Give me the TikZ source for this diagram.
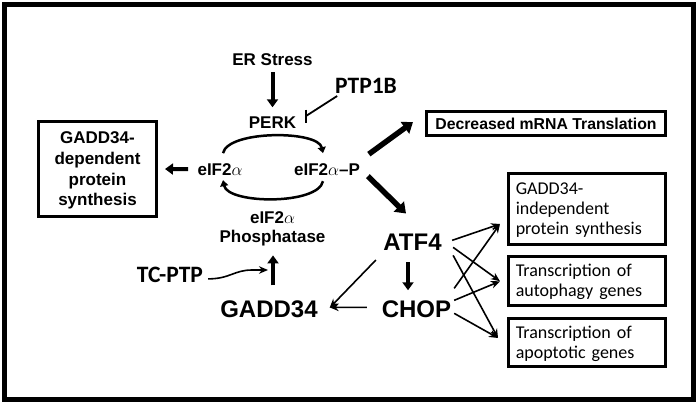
\documentclass[tikz,border=0pt]{standalone}
\usepackage{fontspec}
\setmainfont{Liberation Sans}
\newfontfamily\calfont{Carlito}
\usetikzlibrary{arrows.meta}
\begin{document}
\begin{tikzpicture}[x=1pt,y=-1pt,
  txt/.style={inner sep=0pt, outer sep=0pt, anchor=base, font=\bfseries\fontsize{17}{19}\selectfont},
  bigtxt/.style={txt, font=\bfseries\fontsize{24}{28}\selectfont},
  caltxt/.style={txt, font=\calfont\bfseries\fontsize{23.5}{26}\selectfont},
  framebox/.style={draw, line width=3pt, inner sep=0pt, outer sep=0pt},
  rbox/.style={framebox, text width=142pt, align=left, inner xsep=7.75pt, font=\calfont\fontsize{18}{20}\selectfont},
  thickarr/.style={line width=4pt, -{Triangle[length=8pt,width=11pt]}},
  heavyarr/.style={line width=5.5pt, -{Triangle[length=10pt,width=14pt]}},
  cyclearr/.style={line width=2.5pt, -{Triangle[length=6pt,width=8pt]}},
  thinarr/.style={line width=1.6pt, -{Stealth[length=9pt,width=7.5pt]}},
]
\fill[white] (0,0) rectangle (700,405);
\useasboundingbox (0,0) rectangle (700,405);
\draw[line width=5pt] (4.5,4.5) rectangle (693.5,399.5);

% text nodes
\node[txt] (er) at (272.5,65) {ER Stress};
\node[txt] (perk) at (272.5,128) {PERK};
\node[caltxt] (ptp) at (366,93) {PTP1B};
\node[txt] (eif) at (220,175) {eIF2$\alpha$};
\node[txt] (eifp) at (327,175) {eIF2$\alpha$--P};
\node[txt, anchor=north, align=center] (phos) at (272.5,211.5) {eIF2$\alpha$\\Phosphatase};
\node[caltxt] (tcptp) at (170,282) {TC-PTP};
\node[bigtxt] (gadd) at (269,317) {GADD34};
\node[bigtxt] (atf4) at (412.5,250) {ATF4};
\node[bigtxt] (chop) at (416.5,317) {CHOP};

% boxes
\node[framebox, minimum width=118pt, minimum height=95pt, align=center, text depth=0pt,
      font=\bfseries\fontsize{17}{20.7}\selectfont] (gdep) at (97.5,169) {GADD34-\\dependent\\protein\\synthesis};
\node[framebox, minimum width=239pt, minimum height=24pt,
      font=\bfseries\fontsize{15.8}{18}\selectfont] (dec) at (546,123.5) {Decreased mRNA Translation};
\node[rbox, minimum height=71.5pt, text depth=40pt] (b1) at (586.75,208.75) {GADD34-\\independent\\protein synthesis};
\node[rbox, minimum height=48.5pt, text depth=20pt] (b2) at (586.75,280.75) {Transcription of\\autophagy genes};
\node[rbox, minimum height=48.2pt, text depth=20pt] (b3) at (586.75,342.4) {Transcription of\\apoptotic genes};

% ER stress -> PERK
\draw[thickarr] ([yshift=-7pt]er.south) -- ([yshift=9pt]perk.north);
% PTP1B inhibits PERK
\coordinate (pend) at (306,116);
\draw[line width=1.8pt] ([shift={(2pt,-3pt)}]ptp.south west) -- (pend);
\draw[line width=2.5pt] ([yshift=6.5pt]pend) -- ([yshift=-6.5pt]pend);

% cycle
\draw[cyclearr] ([shift={(3pt,10pt)}]eif.north) .. controls +(5,-23) and +(-5,-23) .. ([shift={(-4pt,10pt)}]eifp.north);
\draw[cyclearr] ([shift={(-4pt,-6pt)}]eifp.south) .. controls +(-5,24) and +(5,24) .. ([shift={(3pt,-5pt)}]eif.south);

% thick arrows
\draw[thickarr] ([xshift=-9.5pt]eif.west) -- ([xshift=8.5pt]gdep.east);
\draw[heavyarr] ([shift={(9pt,9pt)}]eifp.north east) -- ([shift={(-13.5pt,1.5pt)}]dec.west);
\draw[heavyarr] ([shift={(8pt,-1pt)}]eifp.south east) -- ([shift={(-6.5pt,20pt)}]atf4.north);
\draw[thickarr] ([shift={(-4.5pt,-12pt)}]atf4.south) -- ([shift={(-8.5pt,10pt)}]chop.north);
\draw[thickarr] ([shift={(4pt,15pt)}]gadd.north) -- ([shift={(0.5pt,-9.5pt)}]phos.south);

% TC-PTP
\coordinate (tctip) at (268,270);
\draw[thinarr] ([shift={(5pt,-4.5pt)}]tcptp.east) .. controls +(22,0) and +(-18,0) .. ([xshift=-16pt]tctip) -- (tctip);

% to GADD34
\draw[thinarr] ([shift={(-7.5pt,-10pt)}]atf4.south west) -- ([shift={(12pt,1pt)}]gadd.east);
\draw[thinarr] ([shift={(-15pt,1.4pt)}]chop.west) -- ([shift={(12pt,1.4pt)}]gadd.east);

% to right boxes
\coordinate (in1) at ([shift={(-8pt,-15.25pt)}]b1.west);
\coordinate (in2) at ([shift={(-8pt,-0.5pt)}]b2.west);
\coordinate (in3) at ([shift={(-10pt,4.4pt)}]b3.west);
\draw[thinarr] ([shift={(10.5pt,1.4pt)}]atf4.east) -- (in1);
\draw[thinarr] ([shift={(11.5pt,-5.6pt)}]atf4.east) -- (in2);
\draw[thinarr] ([shift={(11.5pt,-13.6pt)}]atf4.east) -- (in3);
\draw[thinarr] ([shift={(3pt,20.4pt)}]chop.east) -- (in1);
\draw[thinarr] ([shift={(3pt,8.4pt)}]chop.east) -- (in2);
\draw[thinarr] ([shift={(3pt,-4.6pt)}]chop.east) -- (in3);
\end{tikzpicture}
\end{document}
